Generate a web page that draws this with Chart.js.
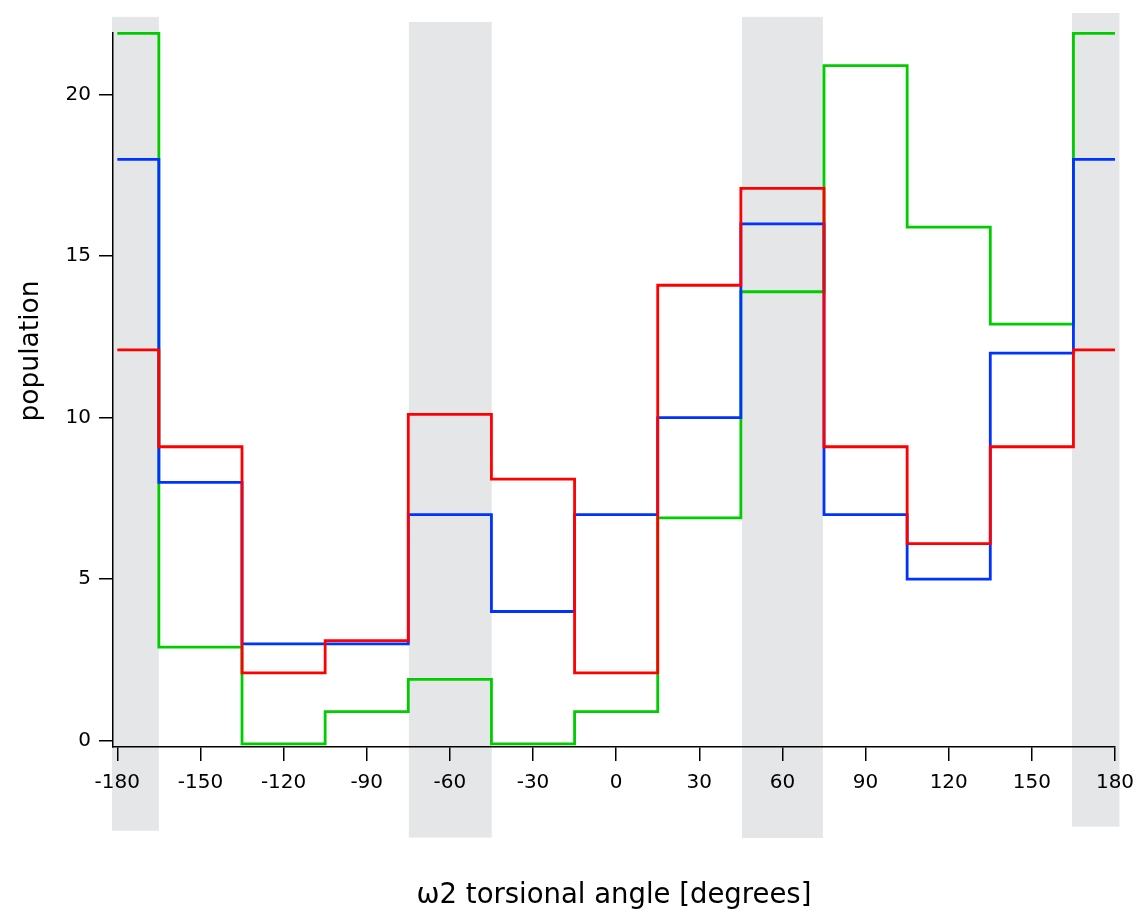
<!DOCTYPE html>
<html>
<head>
<meta charset="utf-8">
<script src="https://cdn.jsdelivr.net/npm/chart.js@4/dist/chart.umd.min.js"></script>
<style>
  html, body { margin: 0; padding: 0; background: #ffffff; }
  #wrap { width: 1136px; height: 912px; }
</style>
</head>
<body>
<div id="wrap"><canvas id="c" width="1136" height="912"></canvas></div>
<script>
// ---- data ----
const binEdges = [-180, -165, -135, -105, -75, -45, -15, 15, 45, 75, 105, 135, 165, 180];
const redValues   = [12.1, 9.1, 2.1, 3.1, 10.1, 8.1, 2.1, 14.1, 17.1, 9.1, 6.1, 9.1, 12.1];
const blueValues  = [18, 8, 3, 3, 7, 4, 7, 10, 16, 7, 5, 12, 18];
const greenValues = [21.9, 2.9, -0.1, 0.9, 1.9, -0.1, 0.9, 6.9, 13.9, 20.9, 15.9, 12.9, 21.9];
const xTickValues = [-180, -150, -120, -90, -60, -30, 0, 30, 60, 90, 120, 150, 180];
const yTickValues = [0, 5, 10, 15, 20];
// shaded angle ranges [from, to] and their vertical extent in data units [bottom, top]
const bandRanges = [[-181.9, -165], [-74.8, -44.9], [45.4, 74.6], [164.5, 181.6]];
const bandExtents = [[-2.79, 22.41], [-3.0, 22.25], [-3.01, 22.41], [-2.66, 22.53]];
const xTitle = 'ω2 torsional angle [degrees]';
const yTitle = 'population';

function stepPoints(values) {
  const pts = values.map((v, i) => ({ x: binEdges[i], y: v }));
  pts.push({ x: binEdges[binEdges.length - 1], y: values[values.length - 1] });
  return pts;
}

const FONT = 'DejaVu Sans';

const bandPlugin = {
  id: 'bands',
  beforeDraw(chart) {
    const ctx = chart.ctx;
    ctx.save();
    ctx.fillStyle = '#ffffff';
    ctx.fillRect(0, 0, chart.width, chart.height);
    const xs = chart.scales.x, ys = chart.scales.y;
    ctx.fillStyle = '#e5e6e8';
    bandRanges.forEach((r, i) => {
      const x0 = xs.getPixelForValue(r[0]);
      const x1 = xs.getPixelForValue(r[1]);
      const yb = ys.getPixelForValue(bandExtents[i][0]);
      const yt = ys.getPixelForValue(bandExtents[i][1]);
      ctx.fillRect(x0, yt, x1 - x0, yb - yt);
    });
    ctx.restore();
  },
  afterDraw(chart) {
    const ctx = chart.ctx;
    ctx.save();
    ctx.fillStyle = '#000000';
    ctx.font = '26.5px "' + FONT + '"';
    ctx.textAlign = 'center';
    ctx.textBaseline = 'middle';
    ctx.translate(31, 351);
    ctx.rotate(-Math.PI / 2);
    ctx.fillText(yTitle, 0, 0);
    ctx.restore();
  }
};

const lineStyle = {
  borderWidth: 2.8,
  pointRadius: 0,
  pointHoverRadius: 0,
  stepped: 'before',
  tension: 0,
  fill: false,
  clip: 6,
  borderJoinStyle: 'miter',
  borderCapStyle: 'butt'
};

new Chart(document.getElementById('c'), {
  type: 'line',
  data: {
    datasets: [
      Object.assign({ label: 'red', data: stepPoints(redValues), borderColor: '#ff0000' }, lineStyle),
      Object.assign({ label: 'blue', data: stepPoints(blueValues), borderColor: '#0033ff' }, lineStyle),
      Object.assign({ label: 'green', data: stepPoints(greenValues), borderColor: '#00cc00' }, lineStyle)
    ]
  },
  options: {
    responsive: false,
    animation: false,
    devicePixelRatio: 1,
    layout: { padding: { left: 0, right: 21, top: 33, bottom: 0 } },
    plugins: { legend: { display: false }, title: { display: false }, tooltip: { enabled: false } },
    scales: {
      x: {
        type: 'linear',
        min: -181.55,
        max: 180,
        afterBuildTicks(scale) { scale.ticks = xTickValues.map(v => ({ value: v })); },
        afterFit(scale) { scale.height = 165; scale.paddingLeft = 0; scale.paddingRight = 0; },
        grid: { display: true, drawOnChartArea: false, drawTicks: true, tickLength: 14, color: '#000000', lineWidth: 1.5 },
        border: { display: true, color: '#000000', width: 1.5 },
        ticks: { color: '#000000', font: { family: FONT, size: 20 }, padding: 10, maxRotation: 0, autoSkip: false },
        title: { display: true, text: xTitle, color: '#000000', font: { family: FONT, size: 27.5 }, padding: { top: 0, bottom: 0 } }
      },
      y: {
        type: 'linear',
        min: -0.195,
        max: 21.91,
        afterBuildTicks(scale) { scale.ticks = yTickValues.map(v => ({ value: v })); },
        afterFit(scale) { scale.width = 113; scale.paddingTop = 0; scale.paddingBottom = 0; },
        grid: { display: true, drawOnChartArea: false, drawTicks: true, tickLength: 14, color: '#000000', lineWidth: 1.5 },
        border: { display: true, color: '#000000', width: 1.5 },
        ticks: { color: '#000000', font: { family: FONT, size: 20 }, padding: 8, autoSkip: false }
      }
    }
  },
  plugins: [bandPlugin]
});
</script>
</body>
</html>
